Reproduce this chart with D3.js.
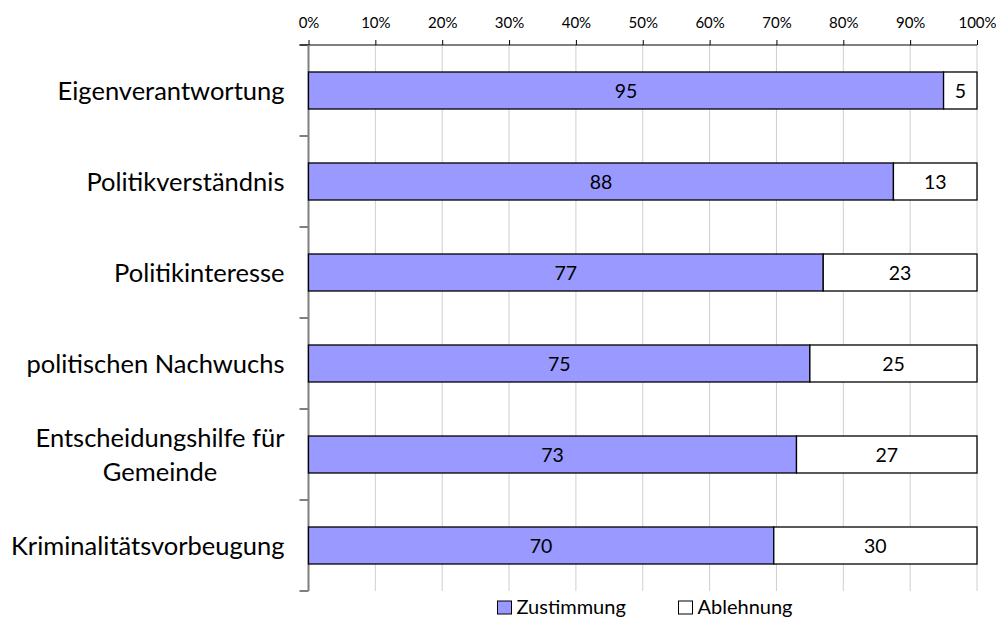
<!DOCTYPE html>
<html>
<head>
<meta charset="utf-8">
<script src="https://cdn.jsdelivr.net/npm/d3@7"></script>
<style>
  body { margin: 0; background: #fff; }
  svg { font-family: Lato, "Open Sans", sans-serif; }
</style>
</head>
<body>
<svg id="bar-chart"></svg>
<script>
// chart data
let categories = ['Eigenverantwortung', 'Politikverständnis', 'Politikinteresse',
  'politischen Nachwuchs', 'Entscheidungshilfe für|Gemeinde', 'Kriminalitätsvorbeugung'];
let zustimmung = [95, 87.5, 77, 75, 73, 69.6];
let ablehnung = [5, 12.5, 23, 25, 27, 30.4];
let seriesNames = ['Zustimmung', 'Ablehnung'];
let seriesColors = ['#9999ff', '#ffffff'];
let tickValues = [0, 0.1, 0.2, 0.3, 0.4, 0.5, 0.6, 0.7, 0.8, 0.9, 1];

let config = { svg: {}, margin: {} };
config.svg.width = 996;
config.svg.height = 619;
config.margin.top = 45;
config.margin.left = 308.5;
config.margin.right = 19;
config.margin.bottom = 28;

let plotWidth = config.svg.width - config.margin.left - config.margin.right;
let plotHeight = config.svg.height - config.margin.top - config.margin.bottom;

let svg = d3.select('#bar-chart')
  .attr('width', config.svg.width)
  .attr('height', config.svg.height);

// normalise rows to 100%
let rows = categories.map((c, i) => {
  let total = zustimmung[i] + ablehnung[i];
  return { cat: c, Zustimmung: zustimmung[i] / total, Ablehnung: ablehnung[i] / total,
    raw: [zustimmung[i], ablehnung[i]] };
});

let stack = d3.stack().keys(seriesNames)(rows);

let x = d3.scaleLinear().domain([0, 1]).range([0, plotWidth]);
let yBand = d3.scaleBand().domain(categories).range([0, plotHeight]);

let plot = svg.append('g').attr('transform', translate(config.margin.left, config.margin.top));

// gridlines
plot.append('g')
  .selectAll('line')
  .data(tickValues.slice(1))
  .join('line')
  .attr('x1', d => x(d)).attr('x2', d => x(d))
  .attr('y1', 0).attr('y2', plotHeight)
  .attr('stroke', '#cfcfcf')
  .attr('stroke-width', 1);

// top axis
let xAxis = d3.axisTop(x)
  .tickValues(tickValues)
  .tickFormat(d3.format('.0%'))
  .tickSize(5)
  .tickSizeOuter(0);
let xGroup = plot.append('g').call(xAxis)
  .attr('font-size', 15)
  .attr('font-family', 'Lato, sans-serif');
xGroup.select('.domain').attr('stroke', '#000');
xGroup.selectAll('.tick line').attr('stroke', '#000');
xGroup.selectAll('.tick text')
  .attr('y', -17)
  .attr('fill', '#000');
xGroup.select('.domain').attr('d', 'M-9,0H' + plotWidth);

// left axis with ticks between categories
let yTicks = d3.range(categories.length + 1);
plot.append('g')
  .selectAll('line')
  .data(yTicks)
  .join('line')
  .attr('x1', -9).attr('x2', 0)
  .attr('y1', d => d * yBand.step()).attr('y2', d => d * yBand.step())
  .attr('stroke', '#000');
plot.append('line')
  .attr('x1', 0).attr('x2', 0)
  .attr('y1', 0).attr('y2', plotHeight)
  .attr('stroke', '#808080')
  .attr('stroke-width', 2);

// bars
let groups = plot.append('g')
  .selectAll('g')
  .data(stack)
  .join('g')
  .attr('fill', (d, i) => seriesColors[i]);

groups.selectAll('rect')
  .data(d => d)
  .join('rect')
  .attr('x', d => x(d[0]))
  .attr('y', d => yBand(d.data.cat) + yBand.bandwidth() / 2 - 18.5)
  .attr('width', d => x(d[1]) - x(d[0]))
  .attr('height', 37)
  .attr('stroke', '#000')
  .attr('stroke-width', 1.3);

// bar labels
stack.forEach((s, si) => {
  plot.append('g')
    .selectAll('text')
    .data(s)
    .join('text')
    .attr('x', d => (x(d[0]) + x(d[1])) / 2)
    .attr('y', d => yBand(d.data.cat) + yBand.bandwidth() / 2)
    .attr('dy', '0.36em')
    .attr('text-anchor', 'middle')
    .attr('font-size', 19.5)
    .attr('fill', '#000')
    .text(d => d3.format('.0f')(d.data.raw[si]));
});

// category labels
let catLabels = plot.append('g')
  .selectAll('text')
  .data(categories)
  .join('text')
  .attr('text-anchor', 'end')
  .attr('font-size', 25.5)
  .attr('fill', '#000')
  .attr('transform', d => translate(-24, yBand(d) + yBand.bandwidth() / 2));

catLabels.each(function(d) {
  let parts = d.split('|');
  let t = d3.select(this);
  parts.forEach((p, i) => {
    t.append('tspan')
      .attr('x', 0)
      .attr('y', (i - (parts.length - 1) / 2) * 34)
      .attr('dy', '0.36em')
      .text(p);
  });
});
// second line of a wrapped label is centred under the first
catLabels.filter(d => d.includes('|')).each(function() {
  let spans = d3.select(this).selectAll('tspan').nodes();
  let w0 = spans[0].getComputedTextLength();
  let w1 = spans[1].getComputedTextLength();
  d3.select(spans[1]).attr('x', -(w0 - w1) / 2);
});

// legend
let legend = svg.append('g').attr('transform', translate(497.5, 601));
let legendX = [0, 181];
seriesNames.forEach((name, i) => {
  let g = legend.append('g').attr('transform', translate(legendX[i], 0));
  g.append('rect')
    .attr('width', 14).attr('height', 13)
    .attr('fill', seriesColors[i])
    .attr('stroke', '#000');
  g.append('text')
    .attr('x', 19).attr('y', 6.5)
    .attr('dy', '0.33em')
    .attr('font-size', 20)
    .attr('fill', '#000')
    .text(name);
});

// helper method to make translating easier
function translate(x, y) {
  return 'translate(' + x + ',' + y + ')';
}
</script>
</body>
</html>
